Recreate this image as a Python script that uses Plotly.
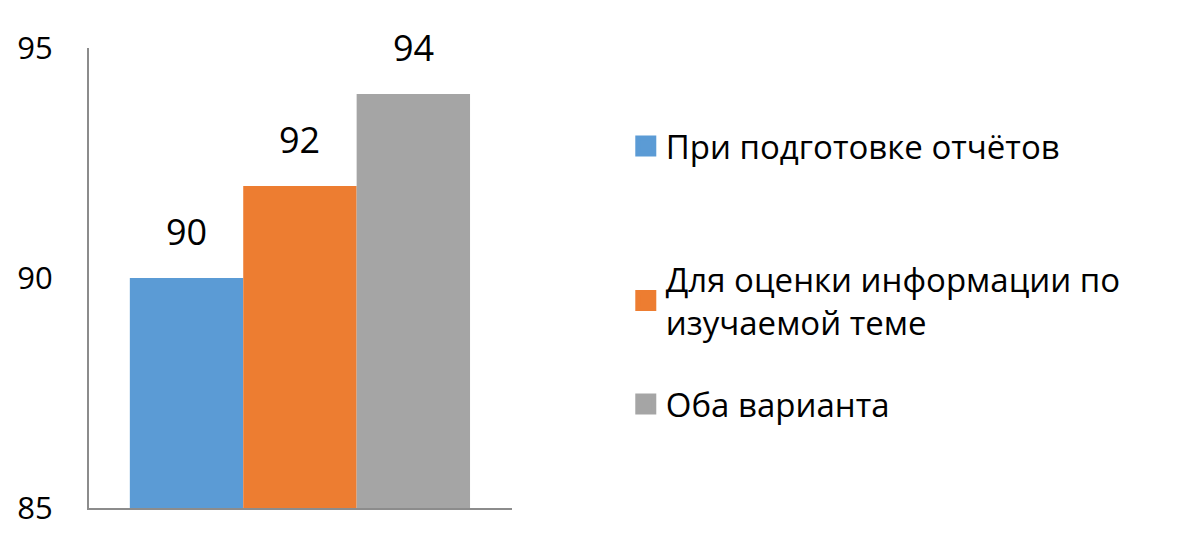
import plotly.graph_objects as go

# data
series_names = [
    "При подготовке отчётов",
    "Для оценки информации по<br>изучаемой теме",
    "Оба варианта",
]
series_values = [90, 92, 94]
series_colors = ["#5B9BD5", "#ED7D31", "#A5A5A5"]
y_ticks = [85, 90, 95]

FONT = "Open Sans"

fig = go.Figure()

legend_ids = ["legend", "legend2", "legend3"]
for i, (name, val, col) in enumerate(zip(series_names, series_values, series_colors)):
    # the bar itself (one category per series, bars touch)
    fig.add_trace(
        go.Bar(
            x=[i],
            y=[val],
            marker=dict(color=col, line=dict(width=0)),
            width=1,
            showlegend=False,
            hoverinfo="skip",
        )
    )
    # legend entry with a bigger square symbol
    fig.add_trace(
        go.Scatter(
            x=[None],
            y=[None],
            mode="markers",
            name=name,
            marker=dict(symbol="square", size=22, color=col, line=dict(width=5, color=col)),
            legend=legend_ids[i],
        )
    )
    fig.add_annotation(
        x=i,
        y=val,
        text=str(val),
        showarrow=False,
        yanchor="bottom",
        yshift=20,
        font=dict(family=FONT, size=36, color="#000000"),
    )

legend_common = dict(
    xanchor="left",
    yanchor="middle",
    x=1.269,
    font=dict(family=FONT, size=33, color="#000000"),
    bgcolor="rgba(0,0,0,0)",
    itemsizing="trace",
)

# the page body adds 8px around the figure, margins account for it
fig.update_layout(
    width=1181,
    height=535,
    margin=dict(l=81, r=677, t=40, b=35, autoexpand=False),
    paper_bgcolor="white",
    plot_bgcolor="white",
    barmode="overlay",
    showlegend=True,
    legend=dict(y=0.787, **legend_common),
    legend2=dict(y=0.451, **legend_common),
    legend3=dict(y=0.226, **legend_common),
    xaxis=dict(
        range=[-0.86, 2.87],
        showticklabels=False,
        showgrid=False,
        zeroline=False,
        showline=True,
        linecolor="#8c8c8c",
        linewidth=2,
        ticks="",
        automargin=False,
    ),
    yaxis=dict(
        range=[85, 95],
        tickvals=y_ticks,
        showgrid=False,
        zeroline=False,
        showline=True,
        linecolor="#8c8c8c",
        linewidth=2,
        ticks="",
        ticklabelstandoff=28,
        automargin=False,
        tickfont=dict(family=FONT, size=31, color="#000000"),
    ),
)

fig.write_html("out.html")
